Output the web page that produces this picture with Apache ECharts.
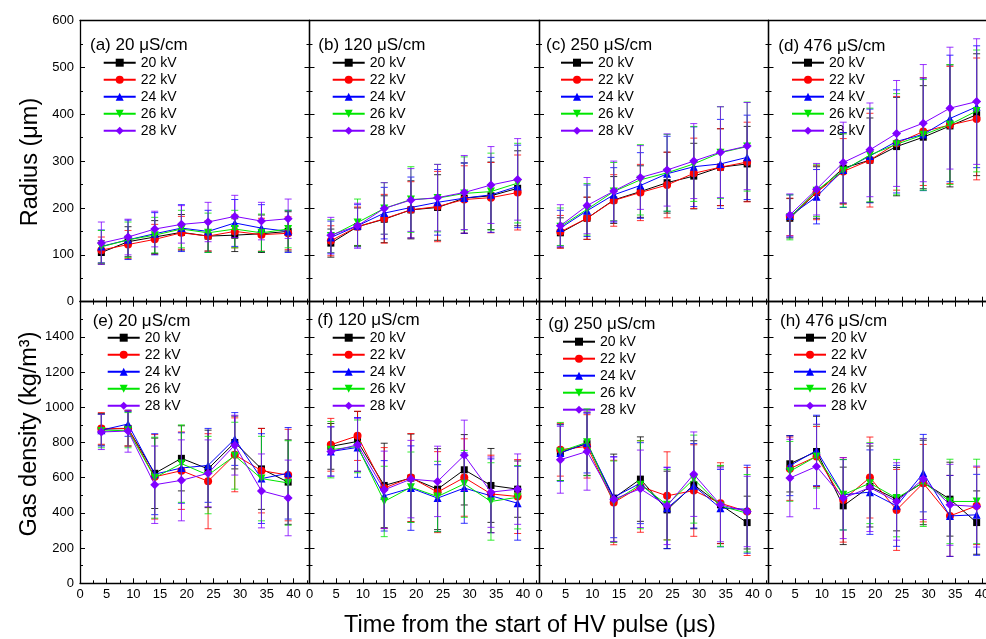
<!DOCTYPE html>
<html><head><meta charset="utf-8">
<script src="https://cdn.jsdelivr.net/npm/echarts@6/dist/echarts.min.js"></script>
<style>html,body{margin:0;padding:0;background:#fff}#c{width:986px;height:639px}</style>
</head><body><div id="c"></div>
<script>
// ---------------- data ----------------
const timeUs = [4, 9, 14, 19, 24, 29, 34, 39];
const voltageNames = ['20 kV', '22 kV', '24 kV', '26 kV', '28 kV'];
const panelTitles = ['(a) 20 \u03bcS/cm', '(b) 120 \u03bcS/cm', '(c) 250 \u03bcS/cm', '(d) 476 \u03bcS/cm',
                     '(e) 20 \u03bcS/cm', '(f) 120 \u03bcS/cm', '(g) 250 \u03bcS/cm', '(h) 476 \u03bcS/cm'];
const radiusMax = 600, radiusStep = 100;
const densityMax = 1600, densityStep = 200;
const timeMax = 43, timeStep = 5;

// Radius (µm), rows = 20,22,24,26,28 kV
const radiusA = [
  [105, 128, 138, 148, 140, 142, 145, 150],
  [110, 122, 133, 147, 140, 150, 143, 146],
  [118, 132, 145, 157, 150, 168, 157, 150],
  [117, 132, 142, 155, 147, 155, 147, 155],
  [125, 138, 155, 165, 170, 182, 172, 177]];
const radiusAErr = [
  [25, 32, 35, 38, 32, 35, 40, 42],
  [28, 30, 32, 35, 32, 35, 35, 35],
  [35, 42, 45, 50, 45, 50, 50, 45],
  [35, 38, 38, 40, 42, 40, 40, 40],
  [45, 38, 38, 40, 42, 45, 40, 42]];
const radiusB = [
  [125, 160, 176, 196, 201, 221, 226, 242],
  [130, 160, 177, 196, 203, 218, 222, 233],
  [137, 162, 189, 201, 212, 221, 228, 246],
  [140, 169, 199, 218, 221, 231, 235, 253],
  [142, 162, 199, 217, 222, 233, 249, 261]];
const radiusBErr = [
  [30, 40, 50, 62, 70, 75, 72, 80],
  [32, 42, 52, 60, 75, 72, 75, 80],
  [35, 45, 55, 65, 70, 75, 80, 88],
  [35, 50, 55, 70, 72, 78, 82, 85],
  [38, 48, 55, 67, 71, 79, 82, 87]];
const radiusC = [
  [147, 178, 217, 235, 254, 268, 287, 294],
  [149, 178, 216, 233, 249, 274, 287, 298],
  [157, 194, 228, 248, 273, 288, 294, 308],
  [160, 197, 235, 260, 275, 294, 318, 331],
  [162, 205, 236, 265, 281, 300, 319, 332]];
const radiusCErr = [
  [32, 45, 50, 55, 65, 70, 82, 80],
  [35, 45, 55, 60, 70, 75, 82, 85],
  [38, 55, 58, 70, 80, 85, 95, 90],
  [40, 55, 62, 75, 82, 80, 98, 95],
  [45, 60, 64, 68, 77, 80, 97, 93]];
const radiusD = [
  [178, 233, 285, 302, 331, 351, 375, 399],
  [181, 233, 278, 302, 338, 363, 377, 390],
  [183, 224, 281, 311, 342, 357, 391, 416],
  [180, 237, 280, 313, 336, 356, 378, 407],
  [185, 240, 297, 324, 359, 381, 413, 427]];
const radiusDErr = [
  [42, 55, 75, 90, 105, 110, 130, 130],
  [40, 58, 70, 100, 100, 115, 125, 130],
  [45, 58, 80, 100, 110, 120, 135, 130],
  [48, 55, 78, 100, 108, 118, 128, 130],
  [45, 55, 86, 100, 113, 125, 130, 134]];

// Gas density (kg/m^3)
const densityE = [
  [875, 880, 625, 710, 650, 800, 650, 575],
  [880, 880, 605, 640, 580, 730, 640, 615],
  [870, 905, 620, 655, 670, 820, 595, 625],
  [865, 870, 600, 680, 615, 725, 595, 570],
  [860, 865, 560, 585, 625, 785, 525, 485]];
const densityEErr = [
  [90, 100, 200, 185, 220, 150, 230, 240],
  [90, 100, 240, 220, 270, 210, 240, 260],
  [90, 70, 230, 200, 210, 150, 255, 260],
  [95, 100, 230, 220, 220, 190, 240, 240],
  [100, 120, 220, 230, 190, 170, 210, 215]];
const densityF = [
  [778, 806, 556, 598, 535, 645, 556, 535],
  [787, 838, 541, 601, 518, 601, 508, 493],
  [749, 772, 497, 541, 484, 541, 497, 455],
  [759, 778, 465, 546, 493, 565, 465, 489],
  [749, 787, 531, 592, 579, 727, 518, 535]];
const densityFErr = [
  [130, 170, 240, 250, 230, 200, 210, 160],
  [150, 140, 230, 250, 230, 220, 220, 210],
  [140, 170, 200, 240, 190, 200, 210, 210],
  [160, 150, 200, 200, 200, 190, 220, 180],
  [140, 150, 220, 220, 200, 200, 200, 200]];
const densityG = [
  [744, 793, 484, 592, 417, 560, 446, 345],
  [759, 778, 459, 550, 497, 527, 455, 408],
  [740, 797, 489, 569, 427, 554, 427, 421],
  [749, 801, 465, 560, 446, 592, 440, 398],
  [702, 749, 478, 537, 440, 620, 446, 408]];
const densityGErr = [
  [160, 180, 250, 240, 220, 250, 220, 150],
  [150, 180, 240, 260, 250, 260, 230, 250],
  [160, 170, 230, 230, 230, 240, 220, 250],
  [165, 190, 230, 250, 200, 250, 230, 220],
  [190, 220, 240, 220, 220, 240, 210, 200]];
const densityH = [
  [679, 749, 440, 550, 478, 573, 478, 345],
  [651, 721, 474, 601, 417, 569, 383, 440],
  [668, 755, 503, 518, 440, 626, 383, 389],
  [636, 721, 503, 569, 484, 573, 465, 465],
  [598, 664, 484, 544, 465, 592, 446, 436]];
const densityHErr = [
  [160, 200, 220, 230, 180, 240, 210, 180],
  [180, 170, 240, 230, 230, 220, 230, 220],
  [170, 200, 200, 240, 230, 220, 230, 230],
  [170, 180, 200, 230, 220, 250, 240, 240],
  [220, 240, 230, 250, 220, 230, 230, 230]];

// ---------------- styling / layout ----------------
const FONT = '"Liberation Sans", Arial, Helvetica, sans-serif';
const colors = ['#000000', '#ff0000', '#0000ff', '#00e600', '#8000ff'];
const symbols = ['rect', 'circle', 'triangle', 'path://M0,0L10,0L5,9Z', 'diamond'];
const symbolSizes = [7, 8, 8, 8, 9];

const panels = [
  { vals: radiusA, errs: radiusAErr }, { vals: radiusB, errs: radiusBErr },
  { vals: radiusC, errs: radiusCErr }, { vals: radiusD, errs: radiusDErr },
  { vals: densityE, errs: densityEErr }, { vals: densityF, errs: densityFErr },
  { vals: densityG, errs: densityGErr }, { vals: densityH, errs: densityHErr }];

const GX = [80, 309.5, 539, 768.5], GW = 229.5;
const GY = [20.5, 301.7], GH = [281.2, 281.6];
const legendPos = [[102.7, 55.7], [331.7, 55.7], [560, 55.7], [791, 55.7],
                   [106.7, 330.7], [331.7, 330.7], [562, 334.7], [793, 330.7]];
const titlePos = [[90, 45.7], [318.3, 45], [546, 45], [778.3, 46.7],
                  [92.7, 321.7], [317.3, 320.7], [548.3, 324.3], [780, 321.7]];

const grid = [], xAxis = [], yAxis = [], series = [], legend = [], graphic = [];
const plainNum = v => String(v);

panels.forEach((p, i) => {
  const r = Math.floor(i / 4), c = i % 4;
  grid.push({ left: GX[c], top: GY[r], width: GW, height: GH[r], containLabel: false, outerBoundsMode: 'none' });
  const axisLine = { show: true, onZero: false, lineStyle: { color: '#000', width: 1.3 } };
  const tick = { show: true, inside: true, length: 5, lineStyle: { color: '#000', width: 1 } };
  const minor = { show: true, splitNumber: 2, length: 3, lineStyle: { color: '#000', width: 1 } };
  const noTick = { show: false };
  xAxis.push({ type: 'value', gridIndex: i, min: 0, max: timeMax, interval: timeStep, position: 'bottom',
    axisLine, axisTick: tick, minorTick: minor, splitLine: { show: false }, minorSplitLine: { show: false },
    axisLabel: { show: r === 1, formatter: plainNum, showMinLabel: true, showMaxLabel: false, fontSize: 13, color: '#000', fontFamily: FONT, margin: 5 } });
  xAxis.push({ type: 'value', gridIndex: i, min: 0, max: timeMax, interval: timeStep, position: 'top',
    axisLine, axisTick: r === 1 ? tick : noTick, minorTick: r === 1 ? minor : noTick,
    splitLine: { show: false }, minorSplitLine: { show: false }, axisLabel: { show: false } });
  const ymax = r === 0 ? radiusMax : densityMax, yint = r === 0 ? radiusStep : densityStep;
  yAxis.push({ type: 'value', gridIndex: i, min: 0, max: ymax, interval: yint, position: 'left',
    axisLine, axisTick: tick, minorTick: minor, splitLine: { show: false }, minorSplitLine: { show: false },
    axisLabel: { show: c === 0, formatter: plainNum, showMinLabel: true, showMaxLabel: r === 0, fontSize: 13, color: '#000', fontFamily: FONT, margin: 6 } });
  yAxis.push({ type: 'value', gridIndex: i, min: 0, max: ymax, interval: yint, position: 'right',
    axisLine, axisTick: tick, minorTick: minor, splitLine: { show: false }, minorSplitLine: { show: false },
    axisLabel: { show: false } });

  p.vals.forEach((vals, s) => {
    const col = colors[s];
    const errs = p.errs[s];
    series.push({
      type: 'custom', name: 'err', xAxisIndex: 2 * i, yAxisIndex: 2 * i, z: 2 + s * 2, silent: true,
      data: timeUs.map((t, k) => [t, vals[k] - errs[k], vals[k] + errs[k]]),
      encode: { x: 0, y: [1, 2] },
      renderItem: (params, api) => {
        const x = api.value(0);
        const lo = api.coord([x, api.value(1)]);
        const hi = api.coord([x, api.value(2)]);
        const hw = 3.5;
        const st = { stroke: col, lineWidth: 1, opacity: 0.8 };
        return { type: 'group', children: [
          { type: 'line', shape: { x1: lo[0], y1: lo[1], x2: hi[0], y2: hi[1] }, style: st },
          { type: 'line', shape: { x1: lo[0] - hw, y1: lo[1], x2: lo[0] + hw, y2: lo[1] }, style: st },
          { type: 'line', shape: { x1: hi[0] - hw, y1: hi[1], x2: hi[0] + hw, y2: hi[1] }, style: st }] };
      }
    });
    series.push({
      type: 'line', name: voltageNames[s], xAxisIndex: 2 * i, yAxisIndex: 2 * i, z: 3 + s * 2,
      data: timeUs.map((t, k) => [t, vals[k]]),
      symbol: symbols[s], symbolSize: symbolSizes[s], showSymbol: true,
      lineStyle: { color: col, width: 1 }, itemStyle: { color: col }
    });
  });

  legend.push({
    orient: 'vertical', left: legendPos[i][0], top: legendPos[i][1], padding: 0,
    itemWidth: 32, itemHeight: 10, itemGap: 3, selectedMode: false,
    textStyle: { fontSize: 14, color: '#000', fontFamily: FONT, lineHeight: 14 },
    data: voltageNames
  });

  graphic.push({ type: 'text', x: titlePos[i][0], y: titlePos[i][1],
    style: { text: panelTitles[i], font: '17px ' + FONT, fill: '#000', textVerticalAlign: 'middle' } });
});

graphic.push({ type: 'text', x: 31, y: 162, rotation: Math.PI / 2,
  style: { text: 'Radius (\u03bcm)', font: '23.5px ' + FONT, fill: '#000', textAlign: 'center', textVerticalAlign: 'middle' } });
graphic.push({ type: 'text', x: 30, y: 434, rotation: Math.PI / 2,
  style: { text: 'Gas density (kg/m\u00b3)', font: '23.5px ' + FONT, fill: '#000', textAlign: 'center', textVerticalAlign: 'middle' } });
graphic.push({ type: 'text', x: 530, y: 626,
  style: { text: 'Time from the start of HV pulse (\u03bcs)', font: '23.5px ' + FONT, fill: '#000', textAlign: 'center', textVerticalAlign: 'middle' } });

const chart = echarts.init(document.getElementById('c'), null, { renderer: 'canvas' });
chart.setOption({
  animation: false,
  backgroundColor: '#fff',
  grid, xAxis, yAxis, series, legend, graphic
});
</script>
</body></html>
